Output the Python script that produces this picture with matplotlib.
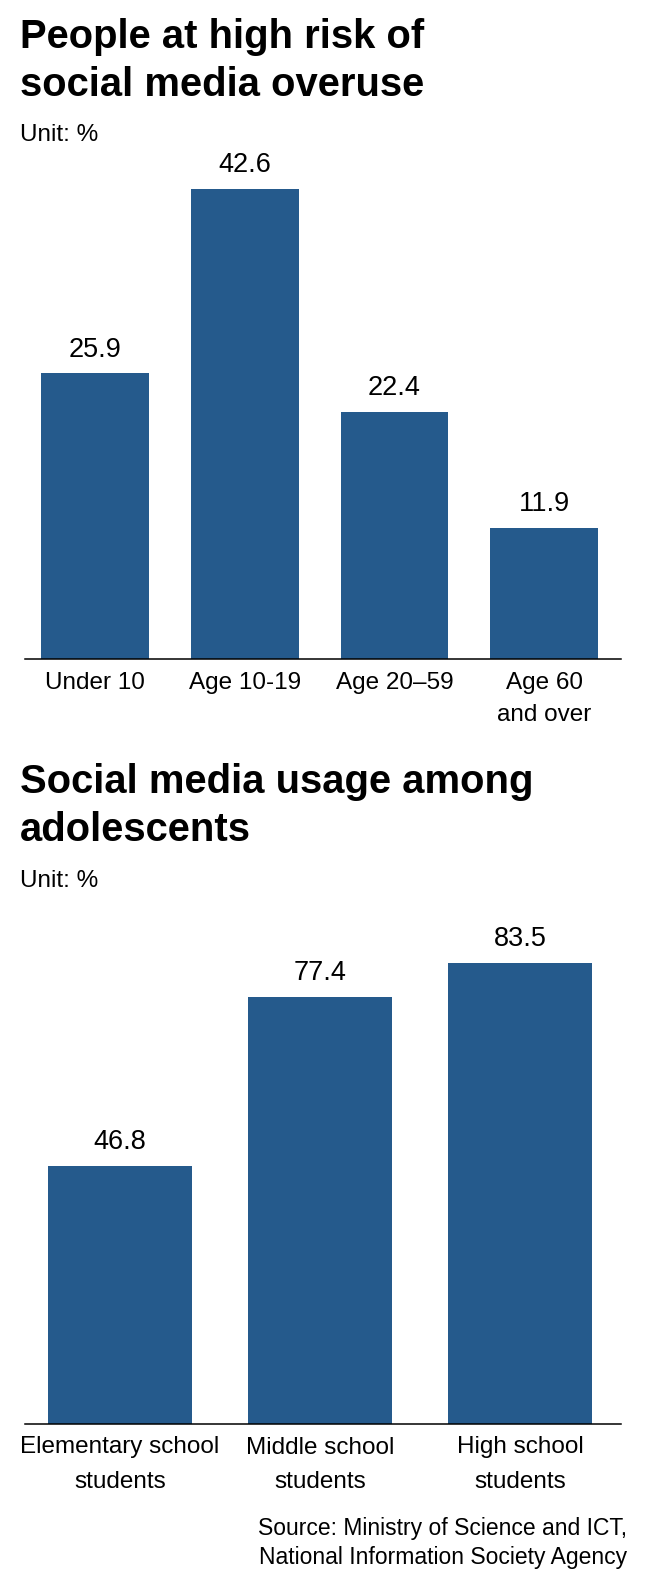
import matplotlib
matplotlib.use("Agg")
import matplotlib.pyplot as plt

# Data
risk_groups = ["Under 10", "Age 10-19", "Age 20\u201359", "Age 60\nand over"]
risk_values = [25.9, 42.6, 22.4, 11.9]

usage_groups = ["Elementary school\nstudents", "Middle school\nstudents", "High school\nstudents"]
usage_values = [46.8, 77.4, 83.5]

BAR = "#255a8c"
FONT = ["Liberation Sans", "DejaVu Sans"]

W, H = 658, 1584
fig = plt.figure(figsize=(W / 100, H / 100), dpi=100)


def fy(px):
    return 1 - px / H


def bar_panel(rect, groups, values, xlim, lsp):
    ax = fig.add_axes(rect)
    x = list(range(len(values)))
    ax.bar(x, values, width=0.72, color=BAR)
    ax.set_xlim(*xlim)
    ax.set_ylim(0, max(values))
    for xi, v in zip(x, values):
        ax.annotate(f"{v}", (xi, v), xytext=(0, 12), textcoords="offset points",
                    ha="center", va="baseline", fontsize=19.5, family=FONT)
    ax.set_xticks(x)
    ax.set_xticklabels(groups, fontsize=17.5, family=FONT, linespacing=lsp)
    ax.tick_params(axis="x", length=0, pad=9)
    ax.set_yticks([])
    for s in ["top", "left", "right"]:
        ax.spines[s].set_visible(False)
    ax.spines["bottom"].set_linewidth(1.1)
    ax.patch.set_alpha(0)
    return ax


############ top chart ############
fig.text(20 / W, fy(48), "People at high risk of", fontsize=28.8, weight="bold", family=FONT, va="baseline")
fig.text(20 / W, fy(96), "social media overuse", fontsize=28.8, weight="bold", family=FONT, va="baseline")
fig.text(20 / W, fy(141), "Unit: %", fontsize=17.5, family=FONT, va="baseline")
bar_panel([25 / W, fy(659), 596 / W, 470 / H], risk_groups, risk_values, (-0.468, 3.514), 1.6)

############ bottom chart ############
fig.text(20 / W, fy(793), "Social media usage among", fontsize=28.8, weight="bold", family=FONT, va="baseline")
fig.text(20 / W, fy(841), "adolescents", fontsize=28.8, weight="bold", family=FONT, va="baseline")
fig.text(20 / W, fy(887), "Unit: %", fontsize=17.5, family=FONT, va="baseline")
bar_panel([25 / W, fy(1424), 596 / W, 461 / H], usage_groups, usage_values, (-0.475, 2.505), 1.72)

fig.text(627 / W, fy(1535), "Source: Ministry of Science and ICT,", fontsize=16.5, family=FONT,
         ha="right", va="baseline")
fig.text(627 / W, fy(1564), "National Information Society Agency", fontsize=16.5, family=FONT,
         ha="right", va="baseline")

fig.savefig("out.png", dpi=100, facecolor="white")
